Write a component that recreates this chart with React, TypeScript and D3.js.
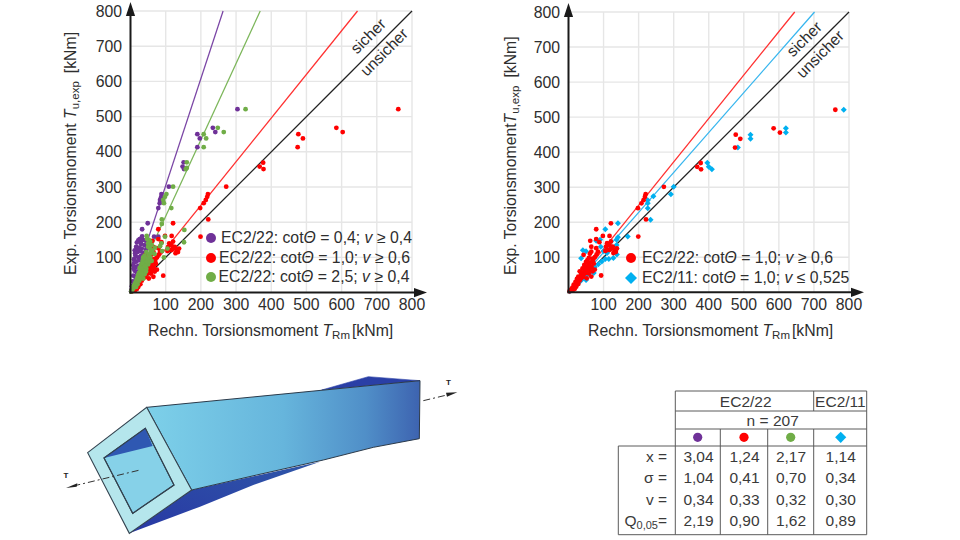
import React from "react";
import * as d3 from "d3";

type P = [number, number];

const ticks = [100, 200, 300, 400, 500, 600, 700, 800];

const purplePts: P[] = [[304,521],[234,468],[241,456],[190,450],[197,438],[190,413],[151,370],[148,358],[152,351],[109,301],[88,280],[87,271],[84,263],[83,254],[79,240],
[49,197],[33,180],[67,159],[79,159],[27,145],[22,148],[30,138],[35,150],[16,130],[24,128],[32,125],[40,135],[48,140],[12,120],[20,115],[28,118],[37,112],[45,122],[14,105],[22,100],[30,104],[10,95],[17,88],[25,92],[34,90],[8,78],[15,72],[22,76],[12,62],[18,58],[26,64],[8,48],[14,44],[20,50],[6,32],[10,26],[15,36],[4,18],[7,12],[3,8],[2,4],[18,142],[13,112],[11,86],[19,124],[26,152],[42,148],[9,68],[33,160]];

const redPts: P[] = [[761,521],[585,468],[603,456],[477,450],[490,438],[475,413],[377,369],[367,358],[378,351],[272,301],[220,280],[218,272],[214,263],[208,254],[198,240],[221,208],
[121,197],[79,180],[199,159],[117,161],[98,161],[121,145],[79,152],[88,143],[107,130],[126,130],[131,121],[117,121],[79,126],[65,116],[43,107],[93,48],[62,74],[69,60],[50,55],[36,40],[110,140],[135,115],[128,112],[122,125],[62,147],[65,130],[84,116],[112,121],[75,100],[58,98],[50,87],[70,90],[62,85],[45,78],[55,70],[40,68],[48,62],[32,60],[38,52],[60,62],[28,45],[42,44],[24,38],[32,34],[20,30],[28,24],[15,22],[22,16],[12,14],[18,10],[8,8],[5,5],[12,6],[3,3],[65,45],[52,40],
[46,58],[57,80],[66,72],[72,82],[53,64],[44,52],[36,48],[30,38],[26,30],[34,42],[41,56],[49,72],[58,54],[75,65],[68,96],[80,108],[54,92],[61,110],[35,58],[24,22],[17,18],[10,11],[7,5],[14,9],[121,130],[138,125],[116,135],[105,118]];

const greenPts: P[] = [[327,521],[248,468],[265,456],[208,450],[215,438],[208,413],[160,370],[160,354],[157,351],[121,301],[102,280],[98,272],[93,263],[95,254],[116,240],
[153,178],[152,143],[98,159],[89,208],[89,195],[88,140],[46,161],[52,150],[56,145],[60,135],[50,130],[55,125],[62,120],[45,115],[52,108],[70,128],[40,105],[48,95],[56,100],[35,92],[42,85],[50,80],[30,78],[38,72],[45,68],[28,62],[35,58],[40,52],[22,50],[30,46],[36,40],[18,38],[25,34],[14,28],[20,24],[10,20],[16,16],[8,12],[5,8],[3,5],[2,3],[105,125],[68,110],[60,90],[84,132],[90,118],[95,100],
[47,152],[50,140],[57,112],[43,98],[33,84],[26,70],[32,68],[39,62],[24,56],[20,44],[27,40],[16,32],[12,24],[7,16],[42,75],[47,88],[36,100],[31,54],[22,36],[18,26],[13,18],[44,60],[54,88]];

const bluePts: P[] = [[785,521],[620,468],[620,456],[519,450],[519,438],[483,413],[396,370],[400,358],[409,351],[300,301],[292,280],[242,274],[226,263],[226,254],[226,240],[234,207],
[141,197],[105,180],[169,159],[141,157],[137,150],[137,135],[137,125],[138,108],[128,98],[90,150],[79,147],[41,120],[50,117],[36,97],[92,130],[100,118],[110,112],[115,95],[105,95],[95,88],[85,80],[75,72],[65,62],[72,55],[60,55],[52,48],[45,42],[38,36],[30,28],[24,22],[18,16],[12,10],[8,6],[4,3],[35,45],[50,35]];

const slopePurple = 3.04;
const slopeRed = 1.24;
const slopeGreen = 2.17;
const slopeBlue = 1.14;

const tableRows = ["x =", "σ =", "v ="];
const colPurple = ["3,04", "1,04", "0,34", "2,19"];
const colRed = ["1,24", "0,41", "0,33", "0,90"];
const colGreen = ["2,17", "0,70", "0,32", "1,62"];
const colBlue = ["1,14", "0,34", "0,30", "0,89"];

const PURPLE = "#6f3198";
const RED = "#ff0000";
const GREEN = "#70ad47";
const BLUE = "#00b0f0";
const INK = "#2e2e2e";
const FONT = "'Liberation Sans', Arial, sans-serif";
const FS = 15.8;

function diamond(cx: number, cy: number, r: number) {
  return `M${cx},${cy - r}L${cx + r},${cy}L${cx},${cy + r}L${cx - r},${cy}Z`;
}

type Series = { pts: P[]; color: string; shape?: "d" };
type Legend = { cx: number; tx: number; y: number; color: string; shape?: "d"; head: string; tail: string; cond: string };

function Plot(props: {
  x0: number; x800: number; y0: number; y800: number;
  series: Series[]; lines: { slope: number; color: string }[]; legend: Legend[];
  sicher: [number, number]; unsicher: [number, number];
  yLabelX: number; yLabelY: number; xLabelX: number; gap: string;
}) {
  const { x0, x800, y0, y800 } = props;
  const x = d3.scaleLinear().domain([0, 800]).range([x0, x800]);
  const y = d3.scaleLinear().domain([0, 800]).range([y0, y800]);
  const line = d3.line<P>().x((d) => x(d[0])).y((d) => y(d[1]));
  return (
    <g fontFamily={FONT} fontSize={FS} fill={INK}>
      {ticks.map((t) => (
        <g key={t} stroke="#e6e6e6" strokeWidth={1.4}>
          <line x1={x(t)} x2={x(t)} y1={y0} y2={y800} />
          <line x1={x0} x2={x800} y1={y(t)} y2={y(t)} />
        </g>
      ))}
      {props.lines.map((l) => (
        <path key={l.color} d={line([[0, 0], [800 / l.slope, 800]]) || ""} stroke={l.color} strokeWidth={1.25} fill="none" />
      ))}
      <path d={line([[0, 0], [800, 800]]) || ""} stroke="#222" strokeWidth={1.3} fill="none" />
      {props.series.map((s) =>
        s.pts.map((d, i) =>
          s.shape === "d" ? (
            <path key={s.color + i} d={diamond(x(d[0]), y(d[1]), 3)} fill={s.color} />
          ) : (
            <circle key={s.color + i} cx={x(d[0])} cy={y(d[1])} r={2.4} fill={s.color} />
          )
        )
      )}
      <line x1={x0} x2={x0} y1={y0 + 1} y2={y800 - 4} stroke="#1a1a1a" strokeWidth={2} />
      <line x1={x0 - 1} x2={x800 + 10} y1={y0} y2={y0} stroke="#1a1a1a" strokeWidth={2} />
      <path d={`M${x0},${y800 - 9}L${x0 + 4.6},${y800 + 5}L${x0 - 4.6},${y800 + 5}Z`} fill="#1a1a1a" />
      <path d={`M${x800 + 15},${y0}L${x800 + 2},${y0 + 4.6}L${x800 + 2},${y0 - 4.6}Z`} fill="#1a1a1a" />
      {ticks.map((t) => (
        <text key={t} x={x0 - 8.5} y={y(t) + 5.5} textAnchor="end">{t}</text>
      ))}
      {ticks.map((t) => (
        <text key={t} x={x(t)} y={y0 + 17.5} textAnchor="middle">{t}</text>
      ))}
      <text x={props.xLabelX} y={336}>
        Rechn. Torsionsmoment <tspan fontStyle="italic">T</tspan>
        <tspan fontSize={11.5} dy={3}>Rm</tspan>
        <tspan dy={-3} dx={2}>[kNm]</tspan>
      </text>
      <text transform={`translate(${props.yLabelX},${props.yLabelY}) rotate(-90)`}>
        Exp. Torsionsmoment{props.gap}<tspan fontStyle="italic">T</tspan>
        <tspan fontSize={11.5} dy={3}>u,exp</tspan>
        <tspan dy={-3} dx={8}>[kNm]</tspan>
      </text>
      <text transform={`translate(${props.sicher[0]},${props.sicher[1]}) rotate(-45)`} textAnchor="middle" dominantBaseline="middle">sicher</text>
      <text transform={`translate(${props.unsicher[0]},${props.unsicher[1]}) rotate(-45)`} textAnchor="middle" dominantBaseline="middle">unsicher</text>
      {props.legend.map((l) => (
        <g key={l.color}>
          {l.shape === "d" ? (
            <path d={diamond(l.cx, l.y, 6)} fill={l.color} />
          ) : (
            <circle cx={l.cx} cy={l.y} r={5} fill={l.color} />
          )}
          <text x={l.tx} y={l.y + 5.4}>
            {l.head}<tspan fontStyle="italic">Θ</tspan> = {l.tail}; <tspan fontStyle="italic">v</tspan> {l.cond}
          </text>
        </g>
      ))}
    </g>
  );
}

function Twisted() {
  const px = (zx: number) => 40 + zx / 3;
  const py = (zy: number) => 360 + zy / 3;
  const path = (pts: number[][]) =>
    (d3.line().curve(d3.curveLinearClosed)(pts.map((p) => [px(p[0]), py(p[1])] as [number, number])) || "");
  const faceEdge = [[1138, 236], [1000, 262], [850, 300], [650, 345], [455, 390]];
  return (
    <g>
      <defs>
        <linearGradient id="faceGrad" x1="0" x2="1" y1="0" y2="0">
          <stop offset="0" stopColor="#7dd0e9" />
          <stop offset="0.5" stopColor="#66b5dc" />
          <stop offset="0.8" stopColor="#508fc8" />
          <stop offset="1" stopColor="#3d63b0" />
        </linearGradient>
        <linearGradient id="darkGrad" x1="0" x2="1" y1="1" y2="0">
          <stop offset="0" stopColor="#2838a4" />
          <stop offset="1" stopColor="#2f57a8" />
        </linearGradient>
      </defs>
      <path d={path([[845, 90], [985, 50], [1140, 62]])} fill="#2a3fa6" stroke="#2a3fa6" strokeWidth={0.6} />
      <path d={path([[455, 390], [268, 520], [480, 440], [640, 375], [840, 305]])} fill="url(#darkGrad)" />
      <path d={path([[320, 142], [1140, 62], ...faceEdge])} fill="url(#faceGrad)" stroke="#2b3a4a" strokeWidth={1} />
      <path d={path([[143, 278], [320, 142], [455, 390], [268, 520]])} fill="#b5e6ec" stroke="#33424f" strokeWidth={1.1} />
      <path d={path([[192, 294], [316, 205], [402, 375], [278, 460]])} fill="#86d1e8" stroke="#33424f" strokeWidth={1.1} />
      <path d={path([[192, 294], [316, 205], [338, 258]])} fill="#2f58b2" />
      <path d={`M${px(192)},${py(294)}L${px(316)},${py(205)}L${px(402)},${py(375)}L${px(278)},${py(460)}Z`} fill="none" stroke="#33424f" strokeWidth={1.1} />
      <line x1={px(100)} y1={py(378)} x2={px(300)} y2={py(330)} stroke="#333" strokeWidth={1} strokeDasharray="7 3 2 3" />
      <line x1={px(1150)} y1={py(122)} x2={px(1225)} y2={py(104)} stroke="#333" strokeWidth={1} strokeDasharray="7 3 2 3" />
      <path d={`M${px(78)},${py(384)}L${px(112)},${py(370)}L${px(110)},${py(380)}Z`} fill="#222" />
      <path d={`M${px(1252)},${py(97)}L${px(1218)},${py(98)}L${px(1221)},${py(110)}Z`} fill="#222" />
      <text x={px(78)} y={py(353)} fontFamily={FONT} fontWeight="bold" fontSize={8} textAnchor="middle" fill="#222">T</text>
      <text x={px(1225)} y={py(74)} fontFamily={FONT} fontWeight="bold" fontSize={8} textAnchor="middle" fill="#222">T</text>
    </g>
  );
}

function Table() {
  const cols = [675.3, 720.3, 767.7, 813.7, 866.7];
  const left = 618.3;
  const rows = [391, 411, 429, 446, 534.7];
  const rowY = [462, 483, 504.5, 525.5];
  const centers = [698.5, 744.5, 791, 840.7];
  const columns = [colPurple, colRed, colGreen, colBlue];
  const st = { stroke: "#5a5a5a", strokeWidth: 1 };
  return (
    <g fontFamily={FONT} fontSize={15.5} fill="#3a3a3a">
      <line x1={cols[0]} x2={cols[4]} y1={rows[0]} y2={rows[0]} {...st} />
      <line x1={cols[0]} x2={cols[4]} y1={rows[1]} y2={rows[1]} {...st} />
      <line x1={cols[0]} x2={cols[4]} y1={rows[2]} y2={rows[2]} {...st} />
      <line x1={left} x2={cols[4]} y1={rows[3]} y2={rows[3]} {...st} />
      <line x1={left} x2={cols[4]} y1={rows[4]} y2={rows[4]} {...st} />
      <line x1={left} x2={left} y1={rows[3]} y2={rows[4]} {...st} />
      <line x1={cols[0]} x2={cols[0]} y1={rows[0]} y2={rows[4]} {...st} />
      <line x1={cols[4]} x2={cols[4]} y1={rows[0]} y2={rows[4]} {...st} />
      <line x1={cols[3]} x2={cols[3]} y1={rows[0]} y2={rows[1]} {...st} />
      {[1, 2, 3].map((c) => (
        <line key={c} x1={cols[c]} x2={cols[c]} y1={rows[2]} y2={rows[4]} {...st} />
      ))}
      <text x={745.7} y={407} textAnchor="middle">EC2/22</text>
      <text x={840.4} y={407} textAnchor="middle">EC2/11</text>
      <text x={772.7} y={426} textAnchor="middle">n = 207</text>
      <circle cx={697.7} cy={437.3} r={4.6} fill={PURPLE} />
      <circle cx={744} cy={437.3} r={4.6} fill={RED} />
      <circle cx={790.7} cy={437.3} r={4.6} fill={GREEN} />
      <path d={diamond(840.7, 437.3, 5.6)} fill={BLUE} />
      {tableRows.map((r, i) => (
        <text key={r} x={667} y={rowY[i]} textAnchor="end">{r}</text>
      ))}
      <text x={667} y={rowY[3]} textAnchor="end">
        Q<tspan fontSize={11} dy={3}>0,05</tspan><tspan dy={-3}>=</tspan>
      </text>
      {columns.map((col, c) =>
        col.map((v, i) => (
          <text key={c + "-" + i} x={centers[c]} y={rowY[i]} textAnchor="middle">{v}</text>
        ))
      )}
    </g>
  );
}

export default function App() {
  return (
    <svg width={960} height={540} viewBox="0 0 960 540" style={{ position: "absolute", left: 0, top: 0, background: "#fff" }}>
      <Plot
        x0={130.5} x800={412} y0={292.6} y800={11}
        series={[{ pts: purplePts, color: PURPLE }, { pts: redPts, color: RED }, { pts: greenPts, color: GREEN }]}
        lines={[{ slope: slopePurple, color: "#7a45a5" }, { slope: slopeGreen, color: "#7cb65a" }, { slope: slopeRed, color: "#ff3030" }]}
        legend={[
          { cx: 211, tx: 221, y: 238, color: PURPLE, head: "EC2/22: cot", tail: "0,4", cond: "≥ 0,4" },
          { cx: 211, tx: 219, y: 258, color: RED, head: "EC2/22: cot", tail: "1,0", cond: "≥ 0,6" },
          { cx: 211, tx: 218.5, y: 277, color: GREEN, head: "EC2/22: cot", tail: "2,5", cond: "≥ 0,4" },
        ]}
        sicher={[369, 37]} unsicher={[385, 53]}
        yLabelX={76} yLabelY={275} xLabelX={148} gap=" "
      />
      <Plot
        x0={568.5} x800={849} y0={292.3} y800={12}
        series={[{ pts: bluePts, color: BLUE, shape: "d" }, { pts: redPts, color: RED }]}
        lines={[{ slope: slopeRed, color: "#ff3030" }, { slope: slopeBlue, color: "#35b5ee" }]}
        legend={[
          { cx: 631, tx: 642, y: 258, color: RED, head: "EC2/22: cot", tail: "1,0", cond: "≥ 0,6" },
          { cx: 631, tx: 642, y: 278, color: BLUE, shape: "d", head: "EC2/11: cot", tail: "1,0", cond: "≤ 0,525" },
        ]}
        sicher={[805, 40]} unsicher={[821, 55]}
        yLabelX={516} yLabelY={275} xLabelX={588} gap=""
      />
      <Twisted />
      <Table />
    </svg>
  );
}
